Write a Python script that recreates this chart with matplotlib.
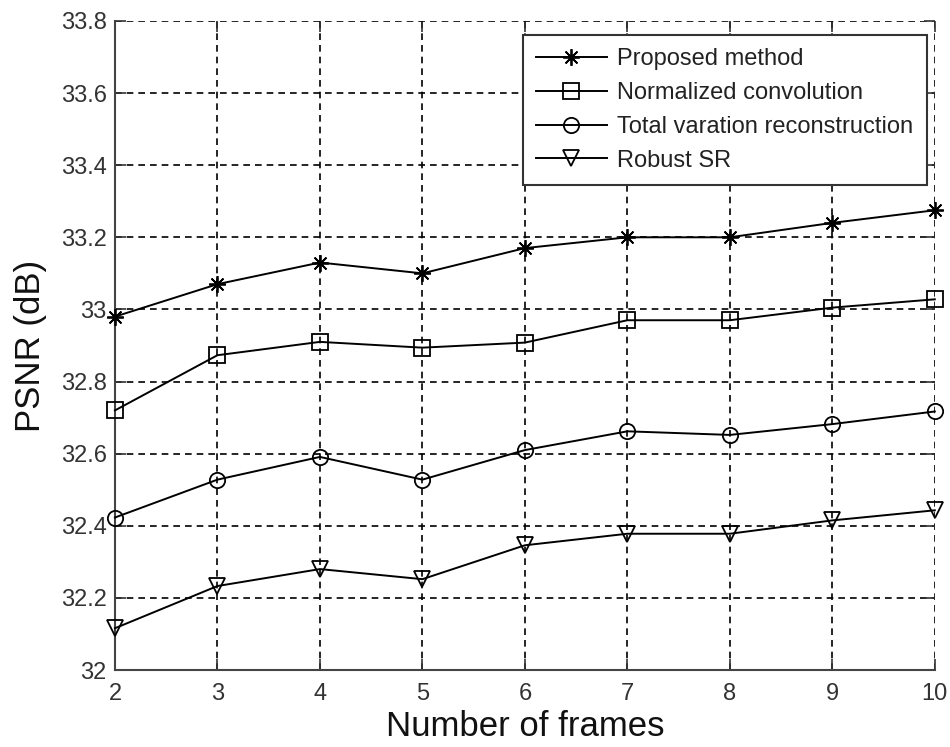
import matplotlib
matplotlib.use("Agg")
import matplotlib.pyplot as plt

plt.rcParams['font.family'] = ['Liberation Sans', 'DejaVu Sans']

frames = [2, 3, 4, 5, 6, 7, 8, 9, 10]
proposed = [32.98, 33.07, 33.13, 33.10, 33.17, 33.20, 33.20, 33.24, 33.275]
normalized = [32.72, 32.873, 32.91, 32.894, 32.908, 32.97, 32.97, 33.005, 33.028]
total_var = [32.423, 32.528, 32.591, 32.528, 32.61, 32.662, 32.652, 32.682, 32.717]
robust_sr = [32.116, 32.233, 32.28, 32.252, 32.346, 32.378, 32.378, 32.415, 32.443]

labels = ["Proposed method", "Normalized convolution",
          "Total varation reconstruction", "Robust SR"]
yticks = [32.0, 32.2, 32.4, 32.6, 32.8, 33.0, 33.2, 33.4, 33.6, 33.8]
ytick_labels = ["32", "32.2", "32.4", "32.6", "32.8", "33", "33.2", "33.4", "33.6", "33.8"]
xticks = [2, 3, 4, 5, 6, 7, 8, 9, 10]

fig = plt.figure(figsize=(9.5, 7.47), dpi=100)
ax = fig.add_axes([0.121, 0.103, 0.863, 0.869])

series = [proposed, normalized, total_var, robust_sr]
markers = [(8, 2, 0), 's', 'o', 'v']
msizes = [12, 12, 11, 12]
for s, m, ms, lab in zip(series, markers, msizes, labels):
    ax.plot(frames, s, color='black', lw=1.4, marker=m, markersize=ms,
            markerfacecolor='none', markeredgecolor='black',
            markeredgewidth=1.3, label=lab, clip_on=False, zorder=3)

ax.set_xlim(2, 10)
ax.set_ylim(32, 33.8)
ax.set_xticks(xticks)
ax.set_xticklabels([str(x) for x in xticks])
ax.set_yticks(yticks)
ax.set_yticklabels(ytick_labels)

ax.grid(True, color='black', linestyle=(0, (4, 3)), linewidth=1.2)
ax.set_axisbelow(True)

for sp in ['top', 'right']:
    ax.spines[sp].set_visible(False)
for sp in ['left', 'bottom']:
    ax.spines[sp].set_color('#444444')
    ax.spines[sp].set_linewidth(1.5)

ax.tick_params(direction='in', length=8, width=1.2, color='#333333',
               labelsize=17, labelcolor='#333333', top=True, right=True)
ax.tick_params(axis='x', pad=9)
ax.tick_params(axis='y', pad=6)

ax.set_xlabel("Number of frames", fontsize=25, color='#111111', labelpad=4)
ax.set_ylabel("PSNR (dB)", fontsize=25, color='#111111', labelpad=10)

leg = ax.legend(loc='upper right', bbox_to_anchor=(0.99, 0.978), fontsize=17,
                frameon=True, fancybox=False, edgecolor='#333333',
                handlelength=3.0, borderpad=0.55, labelspacing=0.5,
                handletextpad=0.45, borderaxespad=0)
leg.get_frame().set_linewidth(1.5)
leg.get_frame().set_alpha(1)
for t in leg.get_texts():
    t.set_color('#222222')

fig.savefig("out.png", dpi=100)
